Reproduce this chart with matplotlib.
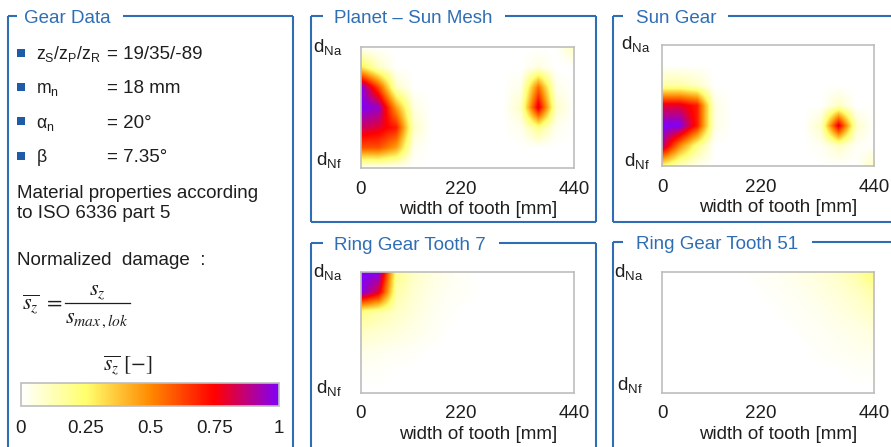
import numpy as np
import matplotlib
matplotlib.use("Agg")
import matplotlib.pyplot as plt
from matplotlib.colors import LinearSegmentedColormap, Normalize
from matplotlib.cm import ScalarMappable
from matplotlib.transforms import ScaledTranslation

plt.rcParams['font.family'] = ['Liberation Sans', 'DejaVu Sans']
plt.rcParams['mathtext.fontset'] = 'custom'
plt.rcParams['mathtext.rm'] = 'Liberation Sans'
plt.rcParams['mathtext.it'] = 'Liberation Sans:italic'
plt.rcParams['mathtext.bf'] = 'Liberation Sans:bold'

# ---------------- data ----------------
gear_labels = [r'$\mathrm{z}_\mathrm{S}/\mathrm{z}_\mathrm{P}/\mathrm{z}_\mathrm{R}$',
               r'$\mathrm{m}_\mathrm{n}$',
               r'$\mathrm{\alpha}_\mathrm{n}$',
               r'$\mathrm{\beta}$']
gear_values = ['= 19/35/-89', '= 18 mm', '= 20°', '= 7.35°']

cbar_ticks = [0, 0.25, 0.5, 0.75, 1]
cbar_ticklabels = ['0', '0.25', '0.5', '0.75', '1']
width_ticks = [0, 220, 440]

# grid nodes: tooth width [mm] and normalised height (0 = d_Nf, 1 = d_Na)
width_nodes = [0, 36.7, 73.3, 110, 146.7, 183.3, 220, 256.7, 293.3, 330, 366.7, 403.3, 440]
height_nodes = [1.0, 0.833, 0.667, 0.5, 0.333, 0.167, 0.0]   # rows listed top to bottom

damage_planet_sun = [
    [0,    0,    0,    0,    0, 0, 0, 0, 0, 0,    0,    0,    0.12],
    [0.3,  0.1,  0,    0,    0, 0, 0, 0, 0, 0,    0.05, 0,    0],
    [1.0,  0.62, 0.1,  0,    0, 0, 0, 0, 0, 0.04, 0.55, 0.04, 0],
    [1.0,  0.95, 0.45, 0.05, 0, 0, 0, 0, 0, 0.1,  0.8,  0.1,  0],
    [0.85, 0.8,  0.7,  0.1,  0, 0, 0, 0, 0, 0.03, 0.2,  0.03, 0],
    [0.6,  0.6,  0.45, 0.03, 0, 0, 0, 0, 0, 0,    0,    0,    0],
    [0,    0,    0,    0,    0, 0, 0, 0, 0, 0,    0,    0,    0],
]

damage_sun_gear = [
    [0,    0,    0,    0,    0, 0, 0, 0, 0, 0,    0,    0,    0],
    [0,    0,    0,    0,    0, 0, 0, 0, 0, 0,    0,    0,    0],
    [0.15, 0.15, 0.1,  0,    0, 0, 0, 0, 0, 0,    0,    0,    0],
    [0.8,  0.8,  0.7,  0.05, 0, 0, 0, 0, 0, 0,    0.1,  0,    0],
    [1.0,  1.0,  0.7,  0.05, 0, 0, 0, 0, 0, 0.1,  0.8,  0.1,  0],
    [0.9,  0.5,  0.2,  0,    0, 0, 0, 0, 0, 0.02, 0.1,  0.02, 0],
    [0.25, 0.1,  0.03, 0,    0, 0, 0, 0, 0, 0,    0,    0,    0.12],
]

damage_ring_7 = [
    [1.0,  1.0,  0.2,  0.1,  0.06, 0.03, 0.01, 0, 0, 0, 0, 0, 0],
    [1.0,  0.8,  0.15, 0.08, 0.04, 0.02, 0.01, 0, 0, 0, 0, 0, 0],
    [0.2,  0.15, 0.1,  0.06, 0.03, 0.01, 0,    0, 0, 0, 0, 0, 0],
    [0.1,  0.08, 0.06, 0.04, 0.02, 0,    0,    0, 0, 0, 0, 0, 0],
    [0.04, 0.03, 0.02, 0.01, 0,    0,    0,    0, 0, 0, 0, 0, 0],
    [0.01, 0.01, 0,    0,    0,    0,    0,    0, 0, 0, 0, 0, 0],
    [0,    0,    0,    0,    0,    0,    0,    0, 0, 0, 0, 0, 0],
]

damage_ring_51 = [
    [0, 0, 0, 0, 0, 0.01, 0.02, 0.03, 0.05, 0.07, 0.1,  0.15, 0.25],
    [0, 0, 0, 0, 0, 0,    0.01, 0.02, 0.03, 0.05, 0.07, 0.1,  0.15],
    [0, 0, 0, 0, 0, 0,    0,    0.01, 0.02, 0.03, 0.05, 0.07, 0.1],
    [0, 0, 0, 0, 0, 0,    0,    0,    0.01, 0.02, 0.03, 0.04, 0.06],
    [0, 0, 0, 0, 0, 0,    0,    0,    0,    0.01, 0.02, 0.03, 0.03],
    [0, 0, 0, 0, 0, 0,    0,    0,    0,    0,    0,    0.01, 0.01],
    [0, 0, 0, 0, 0, 0,    0,    0,    0,    0,    0,    0,    0],
]

# ---------------- style ----------------
W, H = 891, 447
FS = 13.5
BLUE = '#2F6EB5'
BULLET = '#1F5BA6'
TXT = '#1E1E1E'
SPINE = '#BDBDBD'

damage_cmap = LinearSegmentedColormap.from_list(
    'damage', [(0.0, '#FFFFFF'), (0.25, '#FFFF6E'), (0.5, '#FF8A00'),
               (0.75, '#FF0000'), (1.0, '#8000F8')])
norm = Normalize(0, 1)

fig = plt.figure(figsize=(W / 100, H / 100), dpi=100)
fig.patch.set_facecolor('white')

ov = fig.add_axes([0, 0, 1, 1])
ov.set_xlim(0, W)
ov.set_ylim(H, 0)
ov.axis('off')


def px_rect(l, t, r, b):
    return [l / W, 1 - b / H, (r - l) / W, (b - t) / H]


def frame(x0, x1, y0, y1, title, seg_end, text_x, resume):
    kw = dict(color=BLUE, lw=1.5, solid_capstyle='butt', clip_on=False)
    ov.plot([x0, x0], [y0, y1], **kw)
    ov.plot([x1, x1], [y0, y1], **kw)
    ov.plot([x0, x1], [y1, y1], **kw)
    ov.plot([x0, seg_end], [y0, y0], **kw)
    ov.plot([resume, x1], [y0, y0], **kw)
    ov.text(text_x, y0 + 6.7, title, color=BLUE, fontsize=FS, ha='left', va='baseline')


frame(8, 293, 16, 455, 'Gear Data', 17, 24, 123)
frame(311, 596, 16, 222, 'Planet – Sun Mesh', 323, 334, 505)
frame(613, 900, 16, 222, 'Sun Gear', 623, 636, 728)
frame(311, 596, 243, 455, 'Ring Gear Tooth 7', 323, 334, 499)
frame(613, 900, 242, 455, 'Ring Gear Tooth 51', 623, 636, 812)

# ---------------- gear data list ----------------
bullet_y = [52.5, 87, 121, 155.5]
base_y = [59, 93, 128, 162]
for by, ty, lab, val in zip(bullet_y, base_y, gear_labels, gear_values):
    ov.add_patch(plt.Rectangle((17, by - 4), 8, 8, color=BULLET, lw=0))
    ov.text(36, ty, lab, fontsize=FS - 0.8, color=TXT, ha='left', va='baseline')
    ov.text(107, ty, val, fontsize=FS, color=TXT, ha='left', va='baseline')

ov.text(17, 198, 'Material properties according', fontsize=FS, color=TXT, va='baseline')
ov.text(17, 218, 'to ISO 6336 part 5', fontsize=FS, color=TXT, va='baseline')
ov.text(17, 265, 'Normalized  damage  :', fontsize=FS, color=TXT, va='baseline')

# normalised damage definition
MFS = 16
ov.text(22, 305, r'$\overline{s_z}\ =$', fontsize=MFS, color=TXT,
        ha='left', va='center', math_fontfamily='stix')
ov.text(97, 291, r'$s_z$', fontsize=MFS, color=TXT,
        ha='center', va='center', math_fontfamily='stix')
ov.text(97, 319, r'$s_{max\,,lok}$', fontsize=MFS, color=TXT,
        ha='center', va='center', math_fontfamily='stix')
ov.plot([65, 130], [303, 303], color=TXT, lw=0.9)
ov.text(128, 366, r'$\overline{s_z}\ [-]$', fontsize=15.5, color=TXT,
        ha='center', va='center', math_fontfamily='stix')

# ---------------- colour bar ----------------
cax = fig.add_axes(px_rect(21, 383, 279, 406))
cb = fig.colorbar(ScalarMappable(norm=norm, cmap=damage_cmap), cax=cax,
                  orientation='horizontal', ticks=cbar_ticks)
cb.ax.set_xticklabels(cbar_ticklabels)
cb.ax.tick_params(length=0, pad=10, labelsize=FS, labelcolor=TXT)
cb.outline.set_edgecolor(SPINE)
cb.outline.set_linewidth(1.2)

# ---------------- damage maps ----------------
dx = width_nodes[1] - width_nodes[0]
dy = height_nodes[0] - height_nodes[1]
extent = [width_nodes[0] - dx / 2, width_nodes[-1] + dx / 2,
          height_nodes[-1] - dy / 2, height_nodes[0] + dy / 2]

# (grid, axes box in px, label gap px, d_Na / d_Nf label anchors in axes fraction)
panels = [
    (damage_planet_sun, (361, 47, 574, 168), 19, 1.0, 0.066),
    (damage_sun_gear, (662, 45, 874, 166), 12, 1.01, 0.04),
    (damage_ring_7, (361, 272, 574, 393), 19, 1.0, 0.04),
    (damage_ring_51, (662, 272, 874, 393), 19, 1.0, 0.066),
]
for grid, (l, t, r, b), gap, y_na, y_nf in panels:
    ax = fig.add_axes(px_rect(l, t, r, b))
    ax.imshow(np.array(grid), cmap=damage_cmap, norm=norm, extent=extent,
              origin='upper', aspect='auto', interpolation='bilinear',
              interpolation_stage='data')
    ax.set_xlim(width_nodes[0], width_nodes[-1])
    ax.set_ylim(height_nodes[-1], height_nodes[0])
    ax.set_xticks(width_ticks)
    ax.set_xticklabels([str(v) for v in width_ticks])
    ax.set_yticks([])
    ax.tick_params(axis='x', length=0, pad=9, labelsize=FS, labelcolor=TXT)
    for lbl in ax.get_xticklabels():
        if lbl.get_text() == '220':
            lbl.set_transform(lbl.get_transform()
                              + ScaledTranslation(-0.07, 0, fig.dpi_scale_trans))
    xg = -gap / (r - l)
    ax.text(xg, y_na, r'$\mathrm{d}_{\mathrm{Na}}$', transform=ax.transAxes,
            fontsize=FS, color=TXT, ha='right', va='center')
    ax.text(xg, y_nf, r'$\mathrm{d}_{\mathrm{Nf}}$', transform=ax.transAxes,
            fontsize=FS, color=TXT, ha='right', va='center')
    ax.set_xlabel('width of tooth [mm]', fontsize=FS, color=TXT, labelpad=2)
    ax.xaxis.set_label_coords(0.55, -0.27)
    for s in ax.spines.values():
        s.set_edgecolor(SPINE)
        s.set_linewidth(1.2)

fig.savefig('out.png', dpi=100, facecolor='white')
